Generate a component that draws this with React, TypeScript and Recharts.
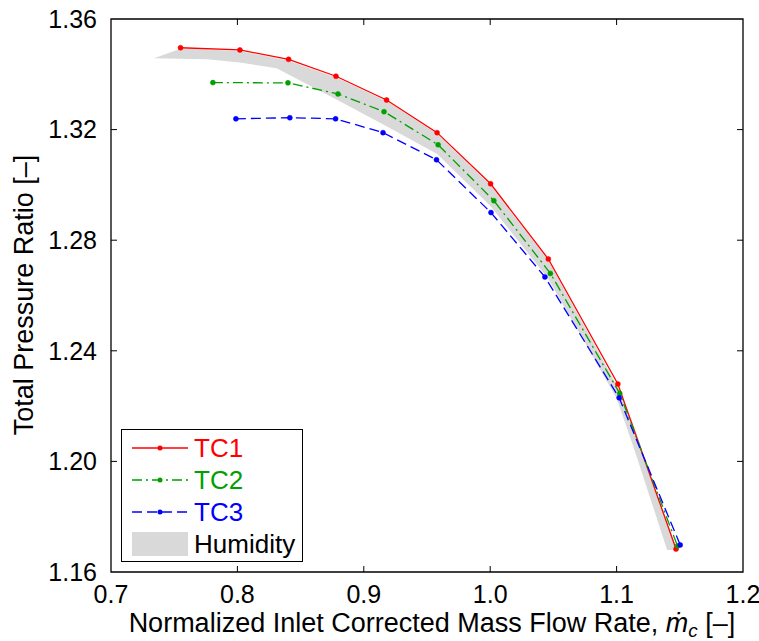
import React from "react";
import {
  ComposedChart,
  Line,
  Area,
  XAxis,
  YAxis,
  ReferenceArea,
  ReferenceLine,
} from "recharts";

const xTicks = [0.7, 0.8, 0.9, 1.0, 1.1, 1.2];
const yTicks = [1.16, 1.2, 1.24, 1.28, 1.32, 1.36];

const tc1X = [0.755, 0.802, 0.8405, 0.878, 0.918, 0.958, 1.0003, 1.046, 1.101, 1.147];
const tc1Y = [1.3496, 1.3488, 1.3454, 1.3393, 1.3307, 1.3189, 1.3004, 1.2732, 1.228, 1.1683];

const tc2X = [0.7806, 0.84, 0.8796, 0.916, 0.9588, 1.0029, 1.0476, 1.1025, 1.1482];
const tc2Y = [1.337, 1.3369, 1.3329, 1.3265, 1.3145, 1.2943, 1.268, 1.2246, 1.1694];

const tc3X = [0.7988, 0.8415, 0.8777, 0.9152, 0.9575, 1.0006, 1.0433, 1.102, 1.1503];
const tc3Y = [1.3239, 1.3243, 1.3239, 1.3189, 1.3091, 1.29, 1.2667, 1.223, 1.1698];

const humX = [0.734, 0.755, 0.776, 0.802, 0.831, 0.84, 0.878, 0.918, 0.958, 1.0, 1.046, 1.1, 1.114, 1.14, 1.147];
const humLow = [1.3458, 1.3456, 1.3454, 1.3443, 1.3422, 1.34, 1.331, 1.3212, 1.3112, 1.2925, 1.266, 1.2228, 1.2043, 1.168, 1.168];
const humHigh = [1.3458, 1.3492, 1.349, 1.3484, 1.3458, 1.345, 1.3388, 1.3303, 1.3185, 1.3, 1.2728, 1.2276, 1.2125, 1.1775, 1.169];

const seriesNames = ["TC1", "TC2", "TC3", "Humidity"];
const RED = "#ff0000";
const GREEN = "#00a000";
const BLUE = "#0000ff";
const GRAY = "#d9d9d9";
const FONT = "'Liberation Sans', Arial, Helvetica, sans-serif";

const tc1 = tc1X.map((x, i) => ({ x, y: tc1Y[i] }));
const tc2 = tc2X.map((x, i) => ({ x, y: tc2Y[i] }));
const tc3 = tc3X.map((x, i) => ({ x, y: tc3Y[i] }));
const hum = humX.map((x, i) => ({ x, range: [humLow[i], humHigh[i]] }));

const XLabel = () => (
  <text x={432} y={632} textAnchor="middle" fontSize={27} fontFamily={FONT} fill="#000">
    Normalized Inlet Corrected Mass Flow Rate,{" "}
    <tspan fontStyle="italic">ṁ</tspan>
    <tspan fontSize={19} dy={5} fontStyle="italic">c</tspan>
    <tspan dy={-5}> [–]</tspan>
  </text>
);

const YLabel = () => (
  <text
    x={33}
    y={295}
    transform="rotate(-90 33 295)"
    textAnchor="middle"
    fontSize={27}
    fontFamily={FONT}
    fill="#000"
  >
    Total Pressure Ratio [–]
  </text>
);

const LegendBox = () => {
  const rows = [
    { name: seriesNames[0], color: RED, dash: undefined as string | undefined },
    { name: seriesNames[1], color: GREEN, dash: "10 4 2 4" },
    { name: seriesNames[2], color: BLUE, dash: "10 5" },
  ];
  return (
    <div
      style={{
        position: "absolute",
        left: 121,
        top: 429,
        width: 180,
        height: 131,
        border: "1.3px solid #000",
        background: "#fff",
        fontFamily: FONT,
      }}
    >
      <svg width={180} height={131} style={{ display: "block" }}>
        {rows.map((r, i) => (
          <g key={r.name}>
            <line
              x1={10}
              x2={66}
              y1={18 + i * 32}
              y2={18 + i * 32}
              stroke={r.color}
              strokeWidth={1.3}
              strokeDasharray={r.dash}
            />
            <circle cx={38} cy={18 + i * 32} r={2.5} fill={r.color} />
            <text x={72} y={18 + i * 32 + 9} fontSize={26} fill={r.color} fontFamily={FONT}>
              {r.name}
            </text>
          </g>
        ))}
        <rect x={10} y={102} width={56} height={24} fill={GRAY} />
        <text x={72} y={123} fontSize={26} fill="#000" fontFamily={FONT}>
          {seriesNames[3]}
        </text>
      </svg>
    </div>
  );
};

const X_TICK_LEN = 6 / 1264;
const Y_TICK_LEN = 6 / 2765;

export default function App() {
  return (
    <div style={{ position: "absolute", left: 0, top: 0, width: 759, height: 641, background: "#fff" }}>
      <ComposedChart
        width={759}
        height={641}
        margin={{ top: 19, right: 16, bottom: 0, left: 0 }}
        style={{ fontFamily: FONT }}
      >
        <XAxis
          dataKey="x"
          type="number"
          domain={[0.7, 1.2]}
          ticks={xTicks}
          allowDataOverflow
          axisLine={false}
          tickLine={false}
          tickSize={0}
          tickMargin={13}
          height={69}
          tickFormatter={(v: number) => v.toFixed(1)}
          tick={{ fill: "#000", fontSize: 25, fontFamily: FONT }}
          label={<XLabel />}
        />
        <YAxis
          type="number"
          domain={[1.16, 1.36]}
          ticks={yTicks}
          allowDataOverflow
          axisLine={false}
          tickLine={false}
          tickSize={0}
          tickMargin={14}
          width={111}
          tickFormatter={(v: number) => v.toFixed(2)}
          tick={{ fill: "#000", fontSize: 25, fontFamily: FONT }}
          label={<YLabel />}
        />
        <Area
          data={hum}
          dataKey="range"
          type="linear"
          fill={GRAY}
          fillOpacity={1}
          stroke="none"
          isAnimationActive={false}
        />
        <Line
          data={tc1}
          dataKey="y"
          type="linear"
          stroke={RED}
          strokeWidth={1.3}
          dot={{ r: 2.5, fill: RED, stroke: RED, strokeWidth: 0.5 }}
          activeDot={false}
          isAnimationActive={false}
        />
        <Line
          data={tc2}
          dataKey="y"
          type="linear"
          stroke={GREEN}
          strokeWidth={1.3}
          strokeDasharray="10 4 2 4"
          dot={{ r: 2.5, fill: GREEN, stroke: GREEN, strokeWidth: 0.5, strokeDasharray: "0" }}
          activeDot={false}
          isAnimationActive={false}
        />
        <Line
          data={tc3}
          dataKey="y"
          type="linear"
          stroke={BLUE}
          strokeWidth={1.3}
          strokeDasharray="10 5"
          dot={{ r: 2.5, fill: BLUE, stroke: BLUE, strokeWidth: 0.5, strokeDasharray: "0" }}
          activeDot={false}
          isAnimationActive={false}
        />
        {xTicks.slice(1, -1).map((v) => (
          <ReferenceLine
            key={"xb" + v}
            segment={[{ x: v, y: 1.16 }, { x: v, y: 1.16 + Y_TICK_LEN }]}
            stroke="#000"
            strokeWidth={1}
            ifOverflow="visible"
          />
        ))}
        {xTicks.slice(1, -1).map((v) => (
          <ReferenceLine
            key={"xt" + v}
            segment={[{ x: v, y: 1.36 }, { x: v, y: 1.36 - Y_TICK_LEN }]}
            stroke="#000"
            strokeWidth={1}
            ifOverflow="visible"
          />
        ))}
        {yTicks.slice(1, -1).map((v) => (
          <ReferenceLine
            key={"yl" + v}
            segment={[{ x: 0.7, y: v }, { x: 0.7 + X_TICK_LEN, y: v }]}
            stroke="#000"
            strokeWidth={1}
            ifOverflow="visible"
          />
        ))}
        {yTicks.slice(1, -1).map((v) => (
          <ReferenceLine
            key={"yr" + v}
            segment={[{ x: 1.2, y: v }, { x: 1.2 - X_TICK_LEN, y: v }]}
            stroke="#000"
            strokeWidth={1}
            ifOverflow="visible"
          />
        ))}
        <ReferenceArea
          x1={0.7}
          x2={1.2}
          y1={1.16}
          y2={1.36}
          fill="none"
          fillOpacity={0}
          stroke="#000"
          strokeWidth={1.3}
          ifOverflow="visible"
        />
      </ComposedChart>
      <LegendBox />
    </div>
  );
}
